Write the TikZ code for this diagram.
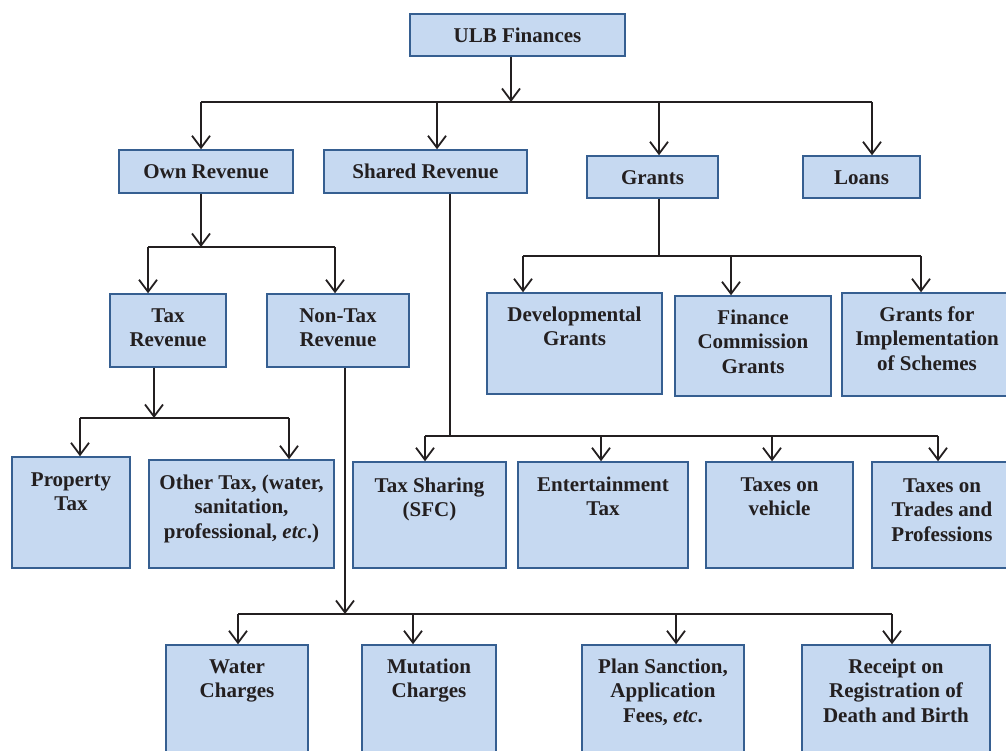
\documentclass[tikz,border=0pt]{standalone}
\usepackage{fontspec}
\setmainfont{Liberation Serif}
\usetikzlibrary{arrows.meta}
\definecolor{boxfill}{HTML}{C6D9F1}
\definecolor{boxline}{HTML}{365F91}
\definecolor{ink}{HTML}{231F20}
\tikzset{
  box/.style={draw=boxline, fill=boxfill, line width=1.5pt, inner sep=0pt, rectangle},
  txt/.style={text=ink, align=center, inner sep=0pt, font=\bfseries\fontsize{21}{24.5}\selectfont},
  ln/.style={draw=ink, line width=1.8pt},
  arr/.style={ln, -{Straight Barb[length=12pt,width=18pt]}}
}
\newcommand\mkbox[7]{%
  \node[box, minimum width={(#4-#2)*1pt}, minimum height={(#5-#3)*1pt}] (#1) at ({(#2+#4)/2},{(#3+#5)/2}) {};
  \node[txt, anchor=north] (#1-t) at ({(#2+#4)/2},{#6-15}) {\rule{0pt}{15pt}#7};
}
\begin{document}
\begin{tikzpicture}[x=1pt,y=-1pt]
\useasboundingbox (0,0) rectangle (1006,751);
% boxes
\mkbox{ulb}{410}{14}{625}{56}{42}{ULB Finances}
\mkbox{own}{119}{150}{293}{193}{178}{Own Revenue}
\mkbox{shared}{324}{150}{527}{193}{178}{Shared Revenue}
\mkbox{grants}{587}{156}{718}{198}{184}{Grants}
\mkbox{loans}{803}{156}{920}{198}{184}{Loans}
\mkbox{tax}{110}{294}{226}{367}{322}{Tax\\Revenue}
\mkbox{nontax}{267}{294}{409}{367}{322}{Non-Tax\\Revenue}
\mkbox{dev}{487}{293}{662}{394}{321}{Developmental\\Grants}
\mkbox{fc}{675}{296}{831}{396}{324}{Finance\\Commission\\Grants}
\mkbox{gi}{842}{293}{1012}{396}{321}{Grants for\\Implementation\\of Schemes}
\mkbox{prop}{12}{457}{130}{568}{486}{Property\\Tax}
\mkbox{other}{149}{460}{334}{568}{489}{Other Tax, (water,\\sanitation,\\professional, \textit{etc}.)}
\mkbox{sfc}{353}{462}{506}{568}{492}{Tax Sharing\\(SFC)}
\mkbox{ent}{518}{462}{688}{568}{491}{Entertainment\\Tax}
\mkbox{veh}{706}{462}{853}{568}{491}{Taxes on\\vehicle}
\mkbox{trade}{872}{462}{1012}{568}{492}{Taxes on\\Trades and\\Professions}
\mkbox{water}{166}{645}{308}{760}{673}{Water\\Charges}
\mkbox{mut}{362}{645}{496}{760}{673}{Mutation\\Charges}
\mkbox{plan}{582}{645}{744}{760}{673}{Plan Sanction,\\Application\\Fees, \textit{etc}.}
\mkbox{rec}{802}{645}{990}{760}{673}{Receipt on\\Registration of\\Death and Birth}
% bus coordinates
\coordinate (bA) at (511,102);
\coordinate (bAown) at (201,102);
\coordinate (bAsh) at (437,102);
\coordinate (bAgr) at (659,102);
\coordinate (bAlo) at (872,102);
\coordinate (bB) at (201,247);
\coordinate (bBtax) at (148,247);
\coordinate (bBnt) at (335,247);
\coordinate (bC) at (154,418);
\coordinate (bCprop) at (80,418);
\coordinate (bCoth) at (289,418);
\coordinate (bD) at (345,614);
\coordinate (bDwat) at (238,614);
\coordinate (bDmut) at (413,614);
\coordinate (bDplan) at (676,614);
\coordinate (bDrec) at (892,614);
\coordinate (bE) at (450,436);
\coordinate (bEsfc) at (425,436);
\coordinate (bEent) at (601,436);
\coordinate (bEveh) at (772,436);
\coordinate (bEtr) at (938,436);
\coordinate (bF) at (659,256);
\coordinate (bFdev) at (523,256);
\coordinate (bFfc) at (731,256);
\coordinate (bFgi) at (921,256);
% level 1
\draw[arr] (ulb.south -| bA) -- (bA);
\draw[ln] (bAown) -- (bAlo);
\draw[arr] (bAown) -- (bAown |- own.north);
\draw[arr] (bAsh) -- (bAsh |- shared.north);
\draw[arr] (bAgr) -- (bAgr |- grants.north);
\draw[arr] (bAlo) -- (bAlo |- loans.north);
% own revenue
\draw[arr] (own.south -| bB) -- (bB);
\draw[ln] (bBtax) -- (bBnt);
\draw[arr] (bBtax) -- (bBtax |- tax.north);
\draw[arr] (bBnt) -- (bBnt |- nontax.north);
% tax revenue
\draw[arr] (tax.south -| bC) -- (bC);
\draw[ln] (bCprop) -- (bCoth);
\draw[arr] (bCprop) -- (bCprop |- prop.north);
\draw[arr] (bCoth) -- (bCoth |- other.north);
% non-tax revenue
\draw[arr] (nontax.south -| bD) -- (bD);
\draw[ln] (bDwat) -- (bDrec);
\draw[arr] (bDwat) -- (bDwat |- water.north);
\draw[arr] (bDmut) -- (bDmut |- mut.north);
\draw[arr] (bDplan) -- (bDplan |- plan.north);
\draw[arr] (bDrec) -- (bDrec |- rec.north);
% shared revenue
\draw[ln] (shared.south -| bE) -- (bE);
\draw[ln] (bEsfc) -- (bEtr);
\draw[arr] (bEsfc) -- (bEsfc |- sfc.north);
\draw[arr] (bEent) -- (bEent |- ent.north);
\draw[arr] (bEveh) -- (bEveh |- veh.north);
\draw[arr] (bEtr) -- (bEtr |- trade.north);
% grants
\draw[ln] (grants.south -| bF) -- (bF);
\draw[ln] (bFdev) -- (bFgi);
\draw[arr] (bFdev) -- (bFdev |- dev.north);
\draw[arr] (bFfc) -- (bFfc |- fc.north);
\draw[arr] (bFgi) -- (bFgi |- gi.north);
\end{tikzpicture}
\end{document}
